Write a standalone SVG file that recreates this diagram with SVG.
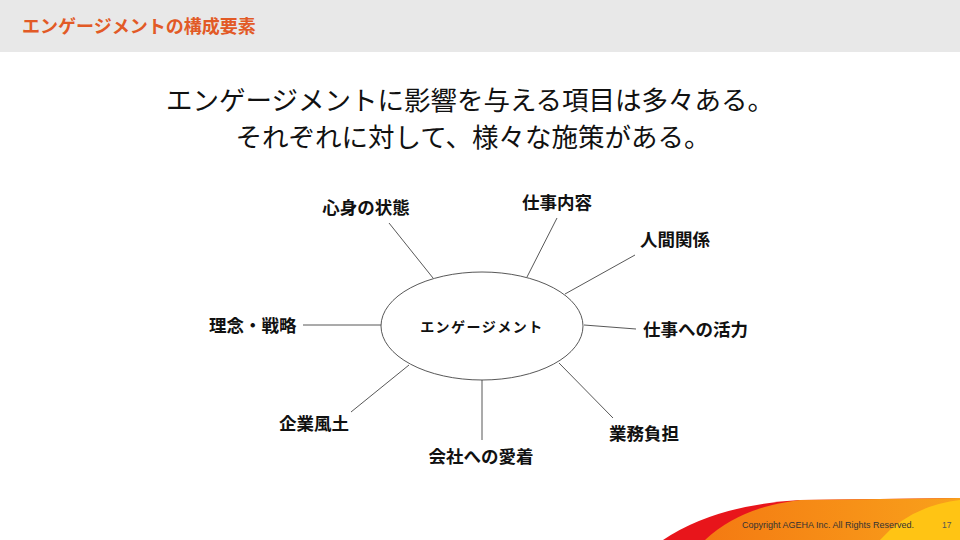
<svg xmlns="http://www.w3.org/2000/svg" width="960" height="540" viewBox="0 0 960 540">
<style>
.jp{font-family:"Noto Sans CJK JP","Noto Sans",sans-serif;fill:#111}
.lbl{font-size:17.5px;font-weight:bold}
.ln{stroke:#444;stroke-width:0.9;fill:none}
</style>
<defs>
<linearGradient id="og" x1="0" y1="0" x2="1" y2="0">
<stop offset="0" stop-color="#f47a12"/>
<stop offset="1" stop-color="#f9a11b"/>
</linearGradient>
</defs>
<rect x="0" y="0" width="960" height="540" fill="#fff"/>
<rect x="0" y="0" width="960" height="52" fill="#e8e8e8"/>
<text class="jp" x="22" y="33" font-size="18" font-weight="bold" style="fill:#e25a26">エンゲージメントの構成要素</text>
<text class="jp" x="470" y="110" font-size="26.5" text-anchor="middle">エンゲージメントに影響を与える項目は多々ある。</text>
<text class="jp" x="473" y="147" font-size="26.5" text-anchor="middle">それぞれに対して、様々な施策がある。</text>
<g id="connectors">
<line class="ln" x1="389" y1="223" x2="433" y2="278"/>
<line class="ln" x1="557" y1="218" x2="527" y2="277"/>
<line class="ln" x1="635" y1="255" x2="565" y2="294"/>
<line class="ln" x1="303" y1="325" x2="381" y2="325"/>
<line class="ln" x1="584" y1="325" x2="636" y2="329"/>
<line class="ln" x1="351" y1="412" x2="409" y2="365"/>
<line class="ln" x1="482" y1="380" x2="482" y2="440"/>
<line class="ln" x1="559" y1="363" x2="613" y2="418"/>
</g>
<g id="center">
<ellipse cx="482" cy="326" rx="101" ry="54" fill="#fff" stroke="#444" stroke-width="0.9"/>
<text class="jp" x="482" y="332" font-size="14" font-weight="bold" letter-spacing="1.5" text-anchor="middle">エンゲージメント</text>
</g>
<g id="n1"><text class="jp lbl" x="366" y="214" text-anchor="middle">心身の状態</text></g>
<g id="n2"><text class="jp lbl" x="557" y="209" text-anchor="middle">仕事内容</text></g>
<g id="n3"><text class="jp lbl" x="640" y="246">人間関係</text></g>
<g id="n4"><text class="jp lbl" x="209" y="332">理念・戦略</text></g>
<g id="n5"><text class="jp lbl" x="643" y="336">仕事への活力</text></g>
<g id="n6"><text class="jp lbl" x="279" y="430">企業風土</text></g>
<g id="n7"><text class="jp lbl" x="481" y="463" text-anchor="middle">会社への愛着</text></g>
<g id="n8"><text class="jp lbl" x="609" y="440">業務負担</text></g>
<g id="footer">
<path d="M663 540 Q715 505 800 500 L960 498 L960 540 Z" fill="#e8151b"/>
<path d="M705 540 Q740 507 800 500 L960 498 L960 540 Z" fill="url(#og)"/>
<path d="M880 540 Q910 506 960 500 L960 540 Z" fill="#ffc414"/>
<text x="742" y="528" font-family="Liberation Sans, sans-serif" font-size="9" fill="#333">Copyright AGEHA Inc. All Rights Reserved.</text>
<text x="942" y="528" font-family="Liberation Sans, sans-serif" font-size="8.5" fill="#555">17</text>
</g>
</svg>
